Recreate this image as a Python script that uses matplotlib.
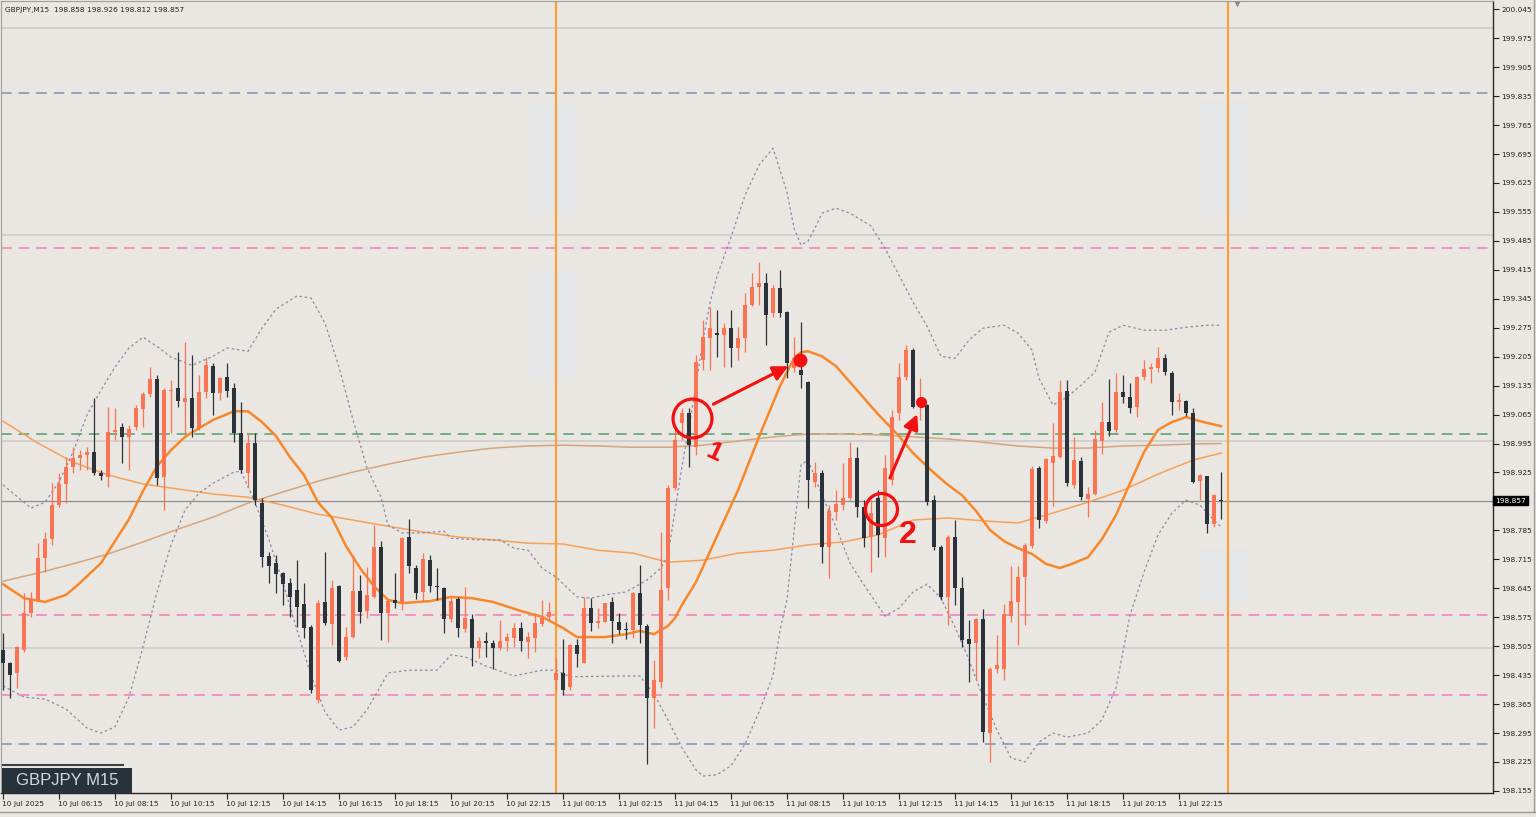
import matplotlib
matplotlib.use("Agg")
import matplotlib.pyplot as plt
from matplotlib.lines import Line2D
from matplotlib.patches import Rectangle
import matplotlib.transforms as mtransforms
import numpy as np

# ---------------- data (GBPJPY M15, 10 Jul 04:15 .. 11 Jul 23:45) ----------------
opens = [198.496, 198.464, 198.440, 198.496, 198.585, 198.617, 198.718, 198.764, 198.846, 198.897,
         198.938, 198.960, 198.967, 198.974, 198.924, 198.914, 199.023, 199.035, 199.011, 199.035,
         199.078, 199.115, 199.151, 198.914, 199.122, 199.129, 199.095, 199.105, 199.032, 199.119,
         199.182, 199.117, 199.155, 199.129, 199.020, 198.924, 198.996, 198.851, 198.723, 198.706,
         198.682, 198.658, 198.641, 198.607, 198.551, 198.375, 198.612, 198.559, 198.650, 198.479,
         198.527, 198.638, 198.590, 198.624, 198.745, 198.585, 198.617, 198.609, 198.769, 198.694,
         198.636, 198.713, 198.650, 198.646, 198.571, 198.619, 198.547, 198.571, 198.501, 198.518,
         198.513, 198.501, 198.518, 198.525, 198.549, 198.515, 198.525, 198.559, 198.576, 198.423,
         198.440, 198.406, 198.508, 198.464, 198.597, 198.561, 198.563, 198.612, 198.563, 198.544,
         198.544, 198.634, 198.554, 198.380, 198.418, 198.646, 198.887, 199.045, 199.069, 198.986,
         199.197, 199.250, 199.262, 199.257, 199.274, 199.226, 199.250, 199.330, 199.373, 199.383,
         199.310, 199.371, 199.313, 199.177, 199.172, 199.144, 198.902, 198.924, 198.745, 198.829,
         198.846, 198.863, 198.960, 198.841, 198.769, 198.863, 198.766, 198.907, 199.069, 199.155,
         199.221, 199.083, 199.088, 198.858, 198.745, 198.624, 198.769, 198.646, 198.522, 198.513,
         198.571, 198.295, 198.450, 198.450, 198.578, 198.612, 198.672, 198.747, 198.936, 198.808,
         198.948, 198.962, 199.122, 198.895, 198.953, 198.861, 198.873, 199.001, 199.047, 199.028,
         199.119, 199.107, 199.083, 199.155, 199.175, 199.177, 199.201, 199.165, 199.095, 199.098,
         199.069, 198.904, 198.916, 198.800, 198.858]
highs = [198.537, 198.467, 198.506, 198.634, 198.636, 198.754, 198.781, 198.899, 198.924, 198.962,
         198.986, 198.979, 198.986, 199.105, 198.931, 199.083, 199.081, 199.044, 199.040, 199.088,
         199.119, 199.180, 199.160, 199.129, 199.148, 199.216, 199.240, 199.209, 199.160, 199.204,
         199.189, 199.155, 199.189, 199.141, 199.095, 199.020, 199.020, 198.863, 198.733, 198.725,
         198.684, 198.670, 198.713, 198.658, 198.556, 198.617, 198.733, 198.665, 198.653, 198.551,
         198.725, 198.677, 198.696, 198.798, 198.759, 198.617, 198.682, 198.769, 198.812, 198.701,
         198.730, 198.725, 198.694, 198.648, 198.621, 198.624, 198.648, 198.583, 198.527, 198.539,
         198.520, 198.568, 198.537, 198.561, 198.563, 198.539, 198.585, 198.617, 198.612, 198.477,
         198.522, 198.510, 198.522, 198.624, 198.621, 198.597, 198.609, 198.624, 198.585, 198.563,
         198.636, 198.701, 198.559, 198.472, 198.781, 198.895, 199.040, 199.081, 199.081, 199.209,
         199.293, 199.325, 199.317, 199.286, 199.317, 199.276, 199.358, 199.407, 199.433, 199.407,
         199.378, 199.414, 199.315, 199.252, 199.289, 199.146, 198.950, 198.931, 198.846, 198.882,
         198.948, 198.998, 198.986, 198.858, 198.858, 198.882, 198.967, 199.076, 199.189, 199.233,
         199.226, 199.153, 199.090, 198.870, 198.750, 198.774, 198.810, 198.672, 198.568, 198.573,
         198.595, 198.455, 198.532, 198.607, 198.699, 198.699, 198.754, 198.940, 198.940, 198.960,
         199.044, 199.148, 199.148, 199.011, 198.962, 198.890, 199.028, 199.095, 199.151, 199.165,
         199.160, 199.141, 199.158, 199.197, 199.189, 199.228, 199.211, 199.170, 199.117, 199.100,
         199.081, 198.921, 198.916, 198.873, 198.926]
lows = [198.399, 198.380, 198.404, 198.491, 198.576, 198.614, 198.684, 198.750, 198.841, 198.851,
        198.924, 198.931, 198.931, 198.919, 198.907, 198.889, 199.003, 198.948, 198.931, 199.028,
        199.035, 199.107, 198.895, 198.834, 199.020, 199.083, 199.020, 199.011, 199.028, 199.105,
        199.064, 199.100, 199.107, 198.998, 198.924, 198.889, 198.846, 198.696, 198.658, 198.634,
        198.605, 198.576, 198.551, 198.525, 198.392, 198.368, 198.556, 198.508, 198.467, 198.472,
        198.525, 198.561, 198.573, 198.621, 198.520, 198.515, 198.597, 198.592, 198.682, 198.619,
        198.614, 198.636, 198.617, 198.537, 198.563, 198.527, 198.539, 198.457, 198.477, 198.479,
        198.450, 198.496, 198.493, 198.503, 198.493, 198.477, 198.491, 198.554, 198.568, 198.399,
        198.387, 198.399, 198.455, 198.464, 198.542, 198.549, 198.563, 198.513, 198.534, 198.522,
        198.525, 198.513, 198.220, 198.307, 198.404, 198.617, 198.882, 199.003, 198.938, 198.967,
        199.172, 199.172, 199.204, 199.180, 199.180, 199.197, 199.216, 199.327, 199.330, 199.233,
        199.301, 199.301, 199.153, 199.168, 199.129, 198.839, 198.890, 198.706, 198.670, 198.810,
        198.834, 198.858, 198.817, 198.745, 198.684, 198.720, 198.720, 198.895, 199.052, 199.148,
        199.081, 199.052, 198.846, 198.737, 198.617, 198.556, 198.605, 198.503, 198.418, 198.423,
        198.273, 198.225, 198.440, 198.423, 198.563, 198.508, 198.556, 198.742, 198.791, 198.803,
        198.844, 198.960, 198.892, 198.887, 198.858, 198.817, 198.870, 198.969, 199.013, 199.023,
        199.093, 199.069, 199.059, 199.148, 199.141, 199.168, 199.160, 199.064, 199.076, 199.061,
        198.899, 198.858, 198.779, 198.793, 198.812]
closes = [198.464, 198.435, 198.503, 198.585, 198.619, 198.718, 198.764, 198.846, 198.897, 198.938,
          198.960, 198.967, 198.974, 198.924, 198.916, 199.023, 199.028, 199.011, 199.030, 199.081,
          199.115, 199.151, 198.912, 199.124, 199.124, 199.098, 199.105, 199.032, 199.119, 199.185,
          199.117, 199.153, 199.122, 199.020, 198.931, 198.996, 198.858, 198.720, 198.699, 198.679,
          198.655, 198.624, 198.600, 198.549, 198.399, 198.609, 198.561, 198.646, 198.469, 198.527,
          198.638, 198.588, 198.629, 198.745, 198.585, 198.614, 198.609, 198.766, 198.699, 198.634,
          198.716, 198.650, 198.648, 198.571, 198.614, 198.549, 198.573, 198.501, 198.518, 198.513,
          198.501, 198.518, 198.527, 198.549, 198.518, 198.527, 198.561, 198.573, 198.588, 198.440,
          198.399, 198.508, 198.486, 198.597, 198.561, 198.566, 198.609, 198.566, 198.544, 198.544,
          198.634, 198.556, 198.380, 198.423, 198.641, 198.887, 199.003, 199.069, 198.991, 199.192,
          199.252, 199.274, 199.257, 199.274, 199.226, 199.250, 199.330, 199.373, 199.383, 199.305,
          199.371, 199.310, 199.189, 199.201, 199.160, 198.907, 198.924, 198.745, 198.832, 198.849,
          198.863, 198.960, 198.841, 198.766, 198.827, 198.774, 198.936, 199.059, 199.155, 199.221,
          199.083, 199.105, 198.853, 198.745, 198.624, 198.769, 198.646, 198.520, 198.510, 198.571,
          198.298, 198.450, 198.459, 198.583, 198.614, 198.672, 198.750, 198.933, 198.810, 198.957,
          198.964, 199.119, 198.899, 198.955, 198.866, 198.873, 199.006, 199.047, 199.025, 199.119,
          199.107, 199.081, 199.155, 199.175, 199.180, 199.201, 199.168, 199.095, 199.100, 199.069,
          198.902, 198.919, 198.800, 198.870, 198.857]

# Bollinger middle (thick orange) read at these bars
mid_bars = [0, 3, 6, 9, 11, 14, 16, 18, 20, 22, 24, 26, 28, 30, 33, 35, 37, 39, 41, 43, 45, 47, 49,
            51, 53, 55, 57, 61, 64, 67, 70, 74, 77, 80, 82, 86, 89, 91, 93, 95, 96, 97, 99, 102, 105,
            108, 111, 113, 114, 115, 117, 119, 122, 125, 128, 130, 133, 135, 137, 139, 141, 143, 145,
            147, 149, 151, 153, 155, 157, 159, 161, 163, 165, 167, 169, 171, 174]
bb_mid = [198.655, 198.621, 198.612, 198.629, 198.658, 198.706, 198.759, 198.812, 198.880, 198.940,
          198.979, 199.011, 199.032, 199.052, 199.073, 199.073, 199.047, 199.013, 198.962, 198.919,
          198.853, 198.815, 198.747, 198.694, 198.650, 198.617, 198.609, 198.614, 198.624, 198.621,
          198.612, 198.590, 198.576, 198.549, 198.527, 198.527, 198.534, 198.542, 198.534, 198.554,
          198.573, 198.605, 198.660, 198.771, 198.882, 199.011, 199.134, 199.201, 199.216, 199.218,
          199.206, 199.182, 199.124, 199.066, 199.013, 198.972, 198.924, 198.895, 198.870, 198.832,
          198.786, 198.759, 198.742, 198.728, 198.704, 198.694, 198.706, 198.720, 198.764, 198.822,
          198.899, 198.974, 199.028, 199.047, 199.059, 199.049, 199.037]
# upper Bollinger band
up_bars = [0, 4, 6, 8, 10, 12, 14, 16, 18, 20, 22, 24, 27, 30, 32, 35, 37, 39, 42, 44, 46, 48, 50,
           52, 54, 55, 57, 60, 63, 64, 68, 71, 73, 75, 77, 79, 82, 84, 86, 89, 92, 94, 95, 97, 98,
           99, 100, 101, 102, 104, 106, 108, 110, 112, 113, 114, 115, 116, 117, 119, 121, 124, 126,
           128, 130, 132, 134, 136, 138, 140, 143, 145, 147, 148, 150, 152, 154, 156, 158, 160, 163,
           166, 169, 172, 174]
bb_upper = [198.895, 198.839, 198.853, 198.902, 198.974, 199.064, 199.124, 199.180, 199.226, 199.252,
            199.230, 199.204, 199.184, 199.206, 199.226, 199.218, 199.274, 199.320, 199.352, 199.347,
            199.286, 199.180, 199.052, 198.936, 198.865, 198.798, 198.779, 198.779, 198.783, 198.766,
            198.762, 198.762, 198.742, 198.737, 198.694, 198.672, 198.624, 198.621, 198.629, 198.636,
            198.665, 198.694, 198.725, 198.940, 199.035, 199.136, 199.245, 199.335, 199.400, 199.494,
            199.595, 199.668, 199.709, 199.603, 199.516, 199.475, 199.484, 199.516, 199.552, 199.564,
            199.552, 199.521, 199.467, 199.402, 199.337, 199.279, 199.206, 199.201, 199.245, 199.274,
            199.281, 199.262, 199.221, 199.153, 199.088, 199.107, 199.136, 199.168, 199.264, 199.281,
            199.269, 199.269, 199.276, 199.281, 199.281]
# lower Bollinger band
lo_bars = [0, 3, 6, 9, 12, 14, 16, 18, 20, 22, 24, 26, 28, 30, 33, 34, 36, 38, 40, 42, 44, 46, 48,
           50, 52, 55, 58, 62, 64, 66, 69, 73, 77, 79, 81, 89, 91, 93, 95, 97, 99, 100, 102, 104,
           106, 108, 110, 111, 112, 113, 114, 115, 117, 119, 121, 123, 126, 128, 130, 132, 134, 136,
           138, 140, 142, 144, 146, 148, 150, 152, 155, 157, 159, 161, 163, 165, 167, 169, 171, 173,
           174]
bb_lower = [198.409, 198.382, 198.377, 198.353, 198.307, 198.295, 198.310, 198.382, 198.503, 198.636,
            198.750, 198.834, 198.875, 198.899, 198.926, 198.928, 198.853, 198.762, 198.658, 198.544,
            198.435, 198.346, 198.302, 198.310, 198.351, 198.440, 198.447, 198.447, 198.484, 198.479,
            198.457, 198.433, 198.447, 198.447, 198.431, 198.433, 198.433, 198.389, 198.327, 198.259,
            198.206, 198.191, 198.194, 198.216, 198.268, 198.346, 198.433, 198.544, 198.617, 198.781,
            198.943, 198.955, 198.870, 198.793, 198.706, 198.653, 198.578, 198.597, 198.636, 198.655,
            198.621, 198.551, 198.472, 198.382, 198.302, 198.235, 198.225, 198.273, 198.295, 198.285,
            198.295, 198.327, 198.404, 198.580, 198.684, 198.774, 198.827, 198.858, 198.846, 198.810,
            198.793]
# two slower moving averages, read every 5th bar (+ last bar)
ma_bars = [0, 5, 10, 15, 20, 25, 30, 35, 40, 45, 50, 55, 60, 65, 70, 75, 80, 85, 90, 95,
           100, 105, 110, 115, 120, 125, 130, 135, 140, 145, 150, 155, 160, 165, 170, 174]
ma_mid = [199.049, 198.996, 198.950, 198.919, 198.897, 198.885, 198.873, 198.865, 198.846, 198.824,
          198.810, 198.795, 198.781, 198.769, 198.762, 198.754, 198.752, 198.737, 198.730, 198.708,
          198.713, 198.730, 198.737, 198.750, 198.757, 198.774, 198.810, 198.815, 198.808, 198.803,
          198.827, 198.853, 198.882, 198.921, 198.955, 198.972]
ma_slow = [198.662, 198.682, 198.704, 198.728, 198.757, 198.788, 198.817, 198.851, 198.878, 198.904,
           198.926, 198.945, 198.962, 198.974, 198.984, 198.989, 198.991, 198.989, 198.986, 198.986,
           198.991, 199.001, 199.011, 199.018, 199.018, 199.016, 199.011, 199.006, 198.998, 198.989,
           198.984, 198.984, 198.989, 198.991, 198.994, 198.995]

round_levels = [200.000, 199.500, 199.000, 198.500]
blue_levels = [199.842, 198.268]
pink_levels = [199.467, 198.580, 198.387]
green_levels = [199.018]
last_price = 198.857
session_bars = [79, 175]

price_ticks = [200.045, 199.975, 199.905, 199.835, 199.765, 199.695, 199.625, 199.555, 199.485,
               199.415, 199.345, 199.275, 199.205, 199.135, 199.065, 198.995, 198.925, 198.785,
               198.715, 198.645, 198.575, 198.505, 198.435, 198.365, 198.295, 198.225, 198.155]
time_tick_bars = [0, 8, 16, 24, 32, 40, 48, 56, 64, 72, 80, 88, 96, 104, 112, 120, 128, 136,
                  144, 152, 160, 168]
time_labels = ["10 Jul 2025", "10 Jul 06:15", "10 Jul 08:15", "10 Jul 10:15", "10 Jul 12:15",
               "10 Jul 14:15", "10 Jul 16:15", "10 Jul 18:15", "10 Jul 20:15", "10 Jul 22:15",
               "11 Jul 00:15", "11 Jul 02:15", "11 Jul 04:15", "11 Jul 06:15", "11 Jul 08:15",
               "11 Jul 10:15", "11 Jul 12:15", "11 Jul 14:15", "11 Jul 16:15", "11 Jul 18:15",
               "11 Jul 20:15", "11 Jul 22:15"]
header = "GBPJPY,M15  198.858 198.926 198.812 198.857"
symbol_label = "GBPJPY M15"

# ---------------- style ----------------
BG = "#EAE6E2"
BULL = "#FA7352"
BEAR = "#2B323A"
RED = "#F21010"
W, H = 1536, 817

fig = plt.figure(figsize=(W / 100, H / 100), dpi=100, facecolor=BG)
ax = fig.add_axes([1 / W, 1 - 793 / H, 1492 / W, 792 / H], facecolor=BG)
ax.set_xlim(-0.286, 212.86)
ax.set_ylim(198.150, 200.065)

x = np.arange(len(closes))
o = np.array(opens); c = np.array(closes); h = np.array(highs); l = np.array(lows)
bull = c > o
cols = np.where(bull, BULL, BEAR)

# faint boxes
for (x0, x1, y0, y1) in [(75.0, 82.1, 199.552, 199.818), (75.0, 82.1, 199.144, 199.414),
                         (171.0, 177.9, 199.547, 199.825), (171.0, 177.9, 198.605, 198.742)]:
    ax.add_patch(Rectangle((x0, y0), x1 - x0, y1 - y0, facecolor="#E5E6E8", edgecolor="none", zorder=0.5))

# horizontal levels
for lv in round_levels:
    ax.axhline(lv, color="#D2D0CE", lw=1.4, zorder=1)
for lv in blue_levels:
    ax.axhline(lv, color="#7D93AA", lw=1.1, ls=(0, (7, 4.5)), zorder=1)
for lv in pink_levels:
    ax.axhline(lv, color="#F27DB5", lw=1.1, ls=(0, (7, 4.5)), zorder=1)
for lv in green_levels:
    ax.axhline(lv, color="#4E9E6A", lw=1.1, ls=(0, (7, 4.5)), zorder=1)
ax.axhline(last_price, color="#8C8C8C", lw=0.9, zorder=1)
for sb in session_bars:
    ax.axvline(sb, color="#F5A23C", lw=1.6, zorder=1.5)

# indicators
ax.plot(ma_bars, ma_slow, color="#D6A57C", lw=1.1, zorder=2)
ax.plot(ma_bars, ma_mid, color="#F6A158", lw=1.1, zorder=2)
ax.plot(up_bars, bb_upper, color="#8B86A8", lw=0.9, ls=(0, (2, 2.2)), zorder=2)
ax.plot(lo_bars, bb_lower, color="#8B86A8", lw=0.9, ls=(0, (2, 2.2)), zorder=2)
ax.plot(mid_bars, bb_mid, color="#F7882A", lw=1.8, zorder=2.2, solid_joinstyle="round")

# candles
ax.vlines(x, l, h, colors=cols, lw=0.9, zorder=3)
body_h = np.maximum(np.abs(c - o), 0.0025)
ax.bar(x, body_h, bottom=np.minimum(o, c), width=0.68, color=cols, linewidth=0, zorder=3.1)

# red annotations
ax.plot([98.39], [199.056], marker="o", ms=28, mfc="none", mec=RED, mew=2.3, zorder=5)
ax.plot([125.39], [198.836], marker="o", ms=23, mfc="none", mec=RED, mew=2.3, zorder=5)
ax.annotate("", xy=(112.19, 199.182), xytext=(101.47, 199.090),
            arrowprops=dict(arrowstyle="-|>,head_length=0.9,head_width=0.45", color=RED, lw=2.2,
                            shrinkA=0, shrinkB=0), zorder=5)
ax.annotate("", xy=(130.61, 199.066), xytext=(126.71, 198.912),
            arrowprops=dict(arrowstyle="-|>,head_length=0.9,head_width=0.45", color=RED, lw=2.2,
                            shrinkA=0, shrinkB=0), zorder=5)
ax.plot([113.86], [199.197], marker="o", ms=10, color=RED, mec="none", zorder=5.1)
ax.plot([131.14], [199.096], marker="o", ms=8, color=RED, mec="none", zorder=5.1)
ax.text(101.57, 198.972, "1", color=RED, fontsize=19, fontweight="bold", family="Liberation Sans",
        rotation=-25, ha="center", va="center", zorder=5)
ax.text(129.21, 198.774, "2", color=RED, fontsize=23, fontweight="bold", family="Liberation Sans",
        ha="center", va="center", zorder=5)

# top marker
ax.plot([176.3], [200.058], marker="v", ms=5, color="#8C8C8C", mec="none", zorder=5, clip_on=False)

# axes / ticks
ax.yaxis.tick_right()
ax.set_yticks(price_ticks)
ax.set_yticklabels([f"{t:.3f}" for t in price_ticks])
ax.set_xticks(time_tick_bars)
ax.set_xticklabels(time_labels, ha="left")
ax.tick_params(axis="y", which="both", right=True, left=False, labelright=True, labelleft=False,
               length=4, width=0.8, pad=2, labelsize=5.3, colors="#222222")
ax.tick_params(axis="x", length=4, width=0.8, pad=2, labelsize=5.3, colors="#222222")
offset = mtransforms.ScaledTranslation(-1 / 100, 0, fig.dpi_scale_trans)
for lab in ax.get_xticklabels():
    lab.set_transform(lab.get_transform() + offset)
for s in ["right", "bottom"]:
    ax.spines[s].set_color("#2A2A2A"); ax.spines[s].set_linewidth(1.0)
for s in ["left", "top"]:
    ax.spines[s].set_color("#A0A0A0"); ax.spines[s].set_linewidth(0.8)

# last price tag
trans = mtransforms.blended_transform_factory(ax.transAxes, ax.transData)
ax.text(1.0015, last_price, f"{last_price:.3f}", transform=trans, color="white", fontsize=5.3,
        ha="left", va="center", zorder=6, clip_on=False,
        bbox=dict(boxstyle="square,pad=0.25", fc="black", ec="black"))

# header text
ax.text(0.003, 0.992, header, transform=ax.transAxes, fontsize=5.3, color="#222222",
        ha="left", va="top", zorder=6)

# symbol label box
fig.add_artist(Rectangle((2 / W, 1 - 793 / H), 130 / W, 25 / H, transform=fig.transFigure,
                         facecolor="#28323A", edgecolor="none", zorder=7))
fig.add_artist(Line2D([3 / W, 123 / W], [1 - 765 / H, 1 - 765 / H], transform=fig.transFigure,
                      color="#3A4046", lw=1.5, zorder=7))
fig.text(67 / W, 1 - 780.5 / H, symbol_label, color="#D4D8DB", fontsize=12,
         family="Liberation Sans", ha="center", va="center", zorder=8)

# outer frame lines
fig.add_artist(Line2D([0, 1], [1 - 812 / H, 1 - 812 / H], transform=fig.transFigure, color="#9A9A9A", lw=1))
fig.add_artist(Line2D([1534 / W, 1534 / W], [1 - 812 / H, 1], transform=fig.transFigure, color="#9A9A9A", lw=1))

fig.savefig("out.png", dpi=100, facecolor=BG)
